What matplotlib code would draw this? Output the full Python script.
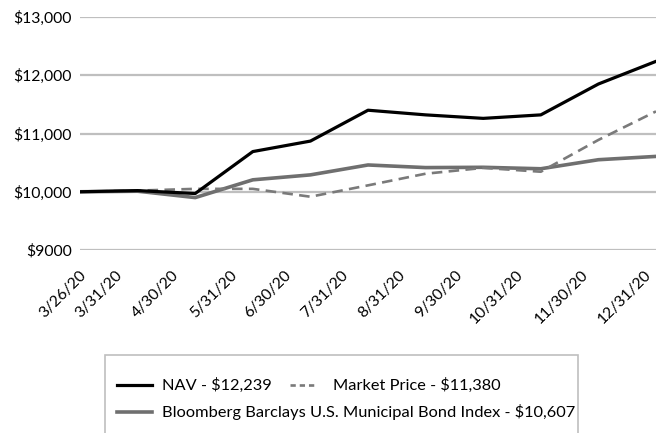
import matplotlib.pyplot as plt
import matplotlib.transforms as mtransforms
from matplotlib.lines import Line2D
from matplotlib.patches import Rectangle

plt.rcParams['font.family'] = ['Lato', 'DejaVu Sans']

# growth of a $10,000 investment
dates = ['3/26/20', '3/31/20', '4/30/20', '5/31/20', '6/30/20', '7/31/20',
         '8/31/20', '9/30/20', '10/31/20', '11/30/20', '12/31/20']
nav = [10000, 10020, 9970, 10690, 10870, 11400, 11320, 11260, 11320, 11850, 12239]
market = [10000, 10020, 10050, 10050, 9915, 10110, 10310, 10410, 10344, 10890, 11380]
index = [10000, 10010, 9900, 10205, 10290, 10460, 10415, 10420, 10395, 10550, 10607]
yticks = [9000, 10000, 11000, 12000, 13000]
ytick_labels = ['$9000', '$10,000', '$11,000', '$12,000', '$13,000']

NAV_C, MKT_C, IDX_C = 'black', '#7a7a7a', '#6f6f6f'

fig = plt.figure(figsize=(6.56, 4.33), dpi=100)
ax = fig.add_axes([0.122, 0.4226, 0.878, 0.5381])

x = range(len(dates))
for y in yticks:
    ax.axhline(y, color='#bfbfbf', lw=1.6, zorder=1)

ax.plot(x, index, color=IDX_C, lw=2.6, zorder=2)
ax.plot(x, market, color=MKT_C, lw=1.9, ls=(0, (4, 2.4)), zorder=3)
ax.plot(x, nav, color=NAV_C, lw=2.3, zorder=4)

ax.set_xlim(0, len(dates) - 1)
ax.set_ylim(9000, 13000)
ax.set_yticks(yticks)
ax.set_yticklabels(ytick_labels, fontsize=11.3)
ax.set_xticks(list(x))
ax.set_xticklabels([])
ax.tick_params(axis='y', length=0, pad=6)
ax.tick_params(axis='x', length=0)
for s in ax.spines.values():
    s.set_visible(False)

# rotated date labels, nudged left/right of each tick (pixels)
label_dx = [-1, -22, -24, -23, -26, -27, -28, -28, -25, -17, -12]
for i, (d, dx) in enumerate(zip(dates, label_dx)):
    tr = mtransforms.offset_copy(ax.get_xaxis_transform(), fig=fig,
                                 x=dx, y=-18, units='dots')
    ax.text(i, 0, d, transform=tr, fontsize=11.3, rotation=45,
            ha='right', va='top', rotation_mode='anchor', clip_on=False)

# legend, drawn by hand in pixel coordinates
W, H = 656, 433
def px(xp, yp):
    return xp / W, 1 - yp / H

fig.patches.append(Rectangle(px(105, 440), (578 - 105) / W, (440 - 355) / H,
                             transform=fig.transFigure, fill=False,
                             edgecolor='#bfbfbf', lw=1.2))
entries = [
    ((117, 152), 385, NAV_C, '-', 2.3, (162, 'NAV - $12,239')),
    ((290, 314), 385, MKT_C, (0, (2, 1.5)), 1.9, (333, 'Market Price - $11,380')),
    ((117, 152), 412, IDX_C, '-', 2.6, (162, 'Bloomberg Barclays U.S. Municipal Bond Index - $10,607')),
]
for (x0, x1), yp, c, ls, lw, (tx, txt) in entries:
    (fx0, fy), (fx1, _) = px(x0, yp), px(x1, yp)
    fig.add_artist(Line2D([fx0, fx1], [fy, fy], transform=fig.transFigure,
                          color=c, ls=ls, lw=lw))
    fig.text(px(tx, yp)[0], fy, txt, fontsize=11.8, va='center', ha='left')

fig.savefig('out.png', dpi=100)
